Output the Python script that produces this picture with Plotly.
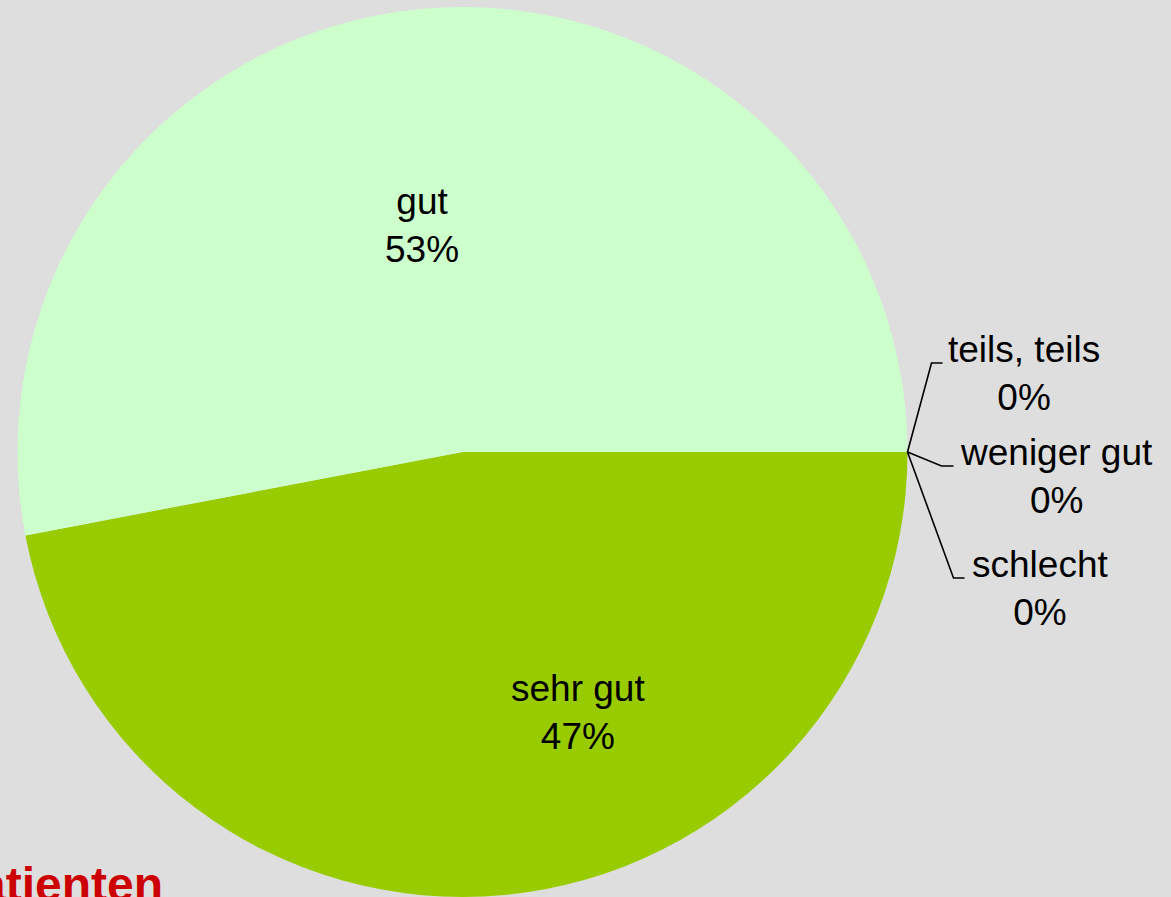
import plotly.graph_objects as go

# Data
categories = ["sehr gut", "gut", "teils, teils", "weniger gut", "schlecht"]
values = [47, 53, 0, 0, 0]
colors = ["#99CC00", "#CCFFCC", "#FFFFCC", "#FFCC99", "#FF9999"]
title_text = "Patienten"

W, H = 1171, 897
FONT = "Liberation Sans, Arial, sans-serif"
BG = "#DEDEDE"
LABEL_SIZE = 37


def px(x):
    return x / W


def py(y):
    return 1 - y / H


# pie placement (pixels)
pie_left, pie_right, pie_top, pie_bottom = 16, 909, 7, 897

total = sum(values)

fig = go.Figure()
fig.add_trace(go.Pie(
    labels=categories,
    values=values,
    sort=False,
    direction="clockwise",
    rotation=90,
    marker=dict(colors=colors, line=dict(width=0)),
    textinfo="none",
    domain=dict(x=[px(pie_left), px(pie_right)], y=[py(pie_bottom), py(pie_top)]),
    showlegend=False,
    hoverinfo="label+percent",
))

side = min(pie_right - pie_left, pie_bottom - pie_top)
R = side / 2
cx = (pie_left + pie_right) / 2
cy = (pie_top + pie_bottom) / 2

shapes = []
annotations = []

# inside labels for the non-zero slices (offset from centre as a fraction of the radius)
inside_layout = {"sehr gut": (0.259, 0.585), "gut": (-0.091, -0.51)}
for cat, v in zip(categories, values):
    if v > 0:
        fx, fy = inside_layout[cat]
        pct = round(100 * v / total)
        annotations.append(dict(
            text=f"{cat}<br>{pct}%",
            x=px(cx + fx * R), y=py(cy + fy * R),
            xref="paper", yref="paper",
            xanchor="center", yanchor="middle",
            showarrow=False, align="center",
            font=dict(family=FONT, size=LABEL_SIZE, color="black"),
        ))

# outside labels for the zero slices, with elbow leader lines
edge_x, edge_y = cx + R, cy
# label layout (elbow point y, elbow x offset, tick length, text center x)
label_layout = [
    (363, 24, 11, 1024),
    (466, 34, 12, 1056),
    (578, 46, 11, 1040),
]
zero_items = [(c, v) for c, v in zip(categories, values) if v == 0]
for (cat, v), (ey, dx, tick, tcx) in zip(zero_items, label_layout):
    x1 = edge_x + dx
    shapes.append(dict(
        type="path",
        path=f"M {px(edge_x)},{py(edge_y)} L {px(x1)},{py(ey)} L {px(x1 + tick)},{py(ey)}",
        xref="paper", yref="paper",
        line=dict(color="black", width=1.6),
    ))
    pct = round(100 * v / total)
    annotations.append(dict(
        text=f"{cat}<br>{pct}%",
        x=px(tcx), y=py(ey + 10),
        xref="paper", yref="paper",
        xanchor="center", yanchor="middle",
        showarrow=False, align="center",
        font=dict(family=FONT, size=LABEL_SIZE, color="black"),
    ))

annotations.append(dict(
    text=f"<b>{title_text}</b>",
    x=px(165), y=py(856),
    xref="paper", yref="paper",
    xanchor="right", yanchor="top",
    showarrow=False,
    font=dict(family=FONT, size=48, color="#CC0000"),
))

fig.update_layout(
    width=W, height=H,
    margin=dict(l=0, r=0, t=0, b=0),
    paper_bgcolor=BG,
    plot_bgcolor=BG,
    shapes=shapes,
    annotations=annotations,
)

fig.write_html(
    "out.html",
    config={"displayModeBar": False},
    post_script="document.body.style.margin='0';document.body.style.overflow='hidden';",
)
